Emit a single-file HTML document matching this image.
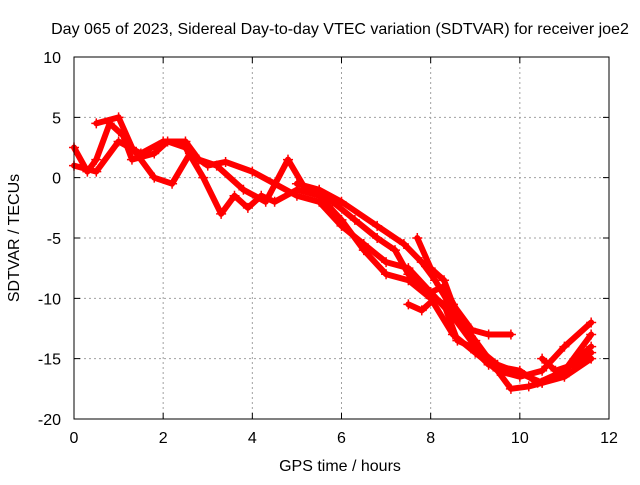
<!DOCTYPE html>
<html><head><meta charset="utf-8"><style>
body{margin:0;background:#fff;}
svg text{font-family:"Liberation Sans",sans-serif;font-size:16px;fill:#000;}
</style></head><body>
<svg id="chart" width="640" height="480" xmlns="http://www.w3.org/2000/svg">
<text x="340" y="34" text-anchor="middle">Day 065 of 2023, Sidereal Day-to-day VTEC variation (SDTVAR) for receiver joe2</text>
<g id="grid"></g>
<g id="series"></g>
<rect x="74" y="57" width="535" height="362" fill="none" stroke="#000" stroke-width="1"/>
<g id="ticks"></g>
<text x="340" y="471" text-anchor="middle">GPS time / hours</text>
<text transform="translate(19,238) rotate(-90)" text-anchor="middle">SDTVAR / TECUs</text>
</svg>
<script>
const xTicks=[0,2,4,6,8,10,12];
const yTicks=[10,5,0,-5,-10,-15,-20];
const trackA=[[0,2.5],[0.3,0.5],[0.5,1.5],[0.8,4.5],[1.1,3.5],[1.3,1.5],[1.8,2],[2.1,3],[2.5,2.5],[2.9,0],[3.3,-3],[3.6,-1.5],[3.9,-2.5],[4.2,-1.5],[4.5,-2],[5.0,-1],[5.5,-1.5],[6.0,-3.5],[6.5,-6],[7.0,-8],[7.5,-8.5],[8,-10],[8.5,-13],[9,-14.5],[9.5,-16],[10,-16.5],[10.5,-16],[11,-14],[11.6,-12]];
const trackB=[[0.5,4.5],[1,5],[1.3,2.5],[1.8,0],[2.2,-0.5],[2.6,2],[3,1],[3.4,1.3],[4,0.5],[4.5,-0.5],[5,-1.5],[5.5,-2],[6,-4],[6.5,-5.5],[7,-7],[7.5,-7.5],[8,-9.5],[8.5,-11.5],[9,-14],[9.5,-15.5],[10,-16.2],[10.5,-17],[11,-16.5],[11.6,-15]];
const trackC=[[0,1],[0.5,0.5],[1,3],[1.5,2],[2,3],[2.5,3],[2.8,1.5],[3.2,1],[3.8,-1],[4.3,-2],[4.8,1.5],[5.2,-1],[5.8,-2],[6.3,-3.5],[6.8,-5],[7.2,-6],[7.5,-8],[8,-9.5],[8.3,-9],[8.8,-12.5],[9.3,-13],[9.8,-13]];
const trackD=[[5,-0.5],[5.5,-1],[6,-2],[6.8,-4],[7.4,-5.5],[7.8,-7],[8.1,-8.5],[8.5,-11],[9,-13.5],[9.5,-16],[9.8,-17.5],[10.2,-17.3],[10.5,-17],[11,-16],[11.6,-13]];
const trackE=[[7.5,-10.5],[7.8,-11],[8.1,-10],[8.3,-10.5],[8.6,-13.5],[8.9,-14],[9.3,-15.5],[10,-16],[10.4,-17],[11,-16],[11.6,-14]];
const trackF=[[7.7,-5],[8,-7.5],[8.3,-8.5],[8.5,-10.5],[8.9,-12.5]];
const trackG=[[10.5,-15],[10.8,-16],[11.2,-15.5],[11.6,-14.5]];
const tracks=[trackA,trackB,trackC,trackD,trackE,trackF,trackG];
const NS="http://www.w3.org/2000/svg";
const X0=74,X1=609,Y0=419,Y1=57;
function sx(v){return X0+(v-0)/(12-0)*(X1-X0);}
function sy(v){return Y0-(v-(-20))/(10-(-20))*(Y0-Y1);}
function mk(tag,attrs,parent){const e=document.createElementNS(NS,tag);for(const k in attrs)e.setAttribute(k,attrs[k]);parent.appendChild(e);return e;}
const grid=document.getElementById('grid'),ticks=document.getElementById('ticks'),ser=document.getElementById('series'),svg=document.getElementById('chart');
xTicks.forEach(t=>{const x=sx(t);
 if(t>0&&t<12){const g=mk('line',{x1:x,x2:x,y1:Y1,y2:Y0,stroke:'#a0a0a0','stroke-dasharray':'2,3'},grid);
 
 }
 const tk=mk('path',{d:`M${x},${Y0}v-6M${x},${Y1}v6`,stroke:'#000'},ticks);
 
 
 const l=mk('text',{x:x,y:443,'text-anchor':'middle'},svg);l.textContent=t;
 
 });
yTicks.forEach(t=>{const y=sy(t);
 if(t>-20&&t<10){const g=mk('line',{x1:X0,x2:X1,y1:y,y2:y,stroke:'#a0a0a0','stroke-dasharray':'2,3'},grid);
 
 }
 const tk=mk('path',{d:`M${X0},${y}h6M${X1},${y}h-6`,stroke:'#000'},ticks);
 
 
 const l=mk('text',{x:61,y:y+6,'text-anchor':'end'},svg);l.textContent=t;
 
 });
tracks.forEach((tr,i)=>{
 const pl=mk('polyline',{points:tr.map(p=>sx(p[0])+','+sy(p[1])).join(' '),fill:'none',stroke:'#ff0000','stroke-width':6,'stroke-linejoin':'round','stroke-linecap':'round'},ser);
 
 
 tr.forEach(p=>{const x=sx(p[0]),y=sy(p[1]);
  const m=mk('path',{d:`M${x-5},${y}h10M${x},${y-5}v10`,stroke:'#ff0000','stroke-width':1.5},ser);
  
  });
});
</script>
</body></html>
